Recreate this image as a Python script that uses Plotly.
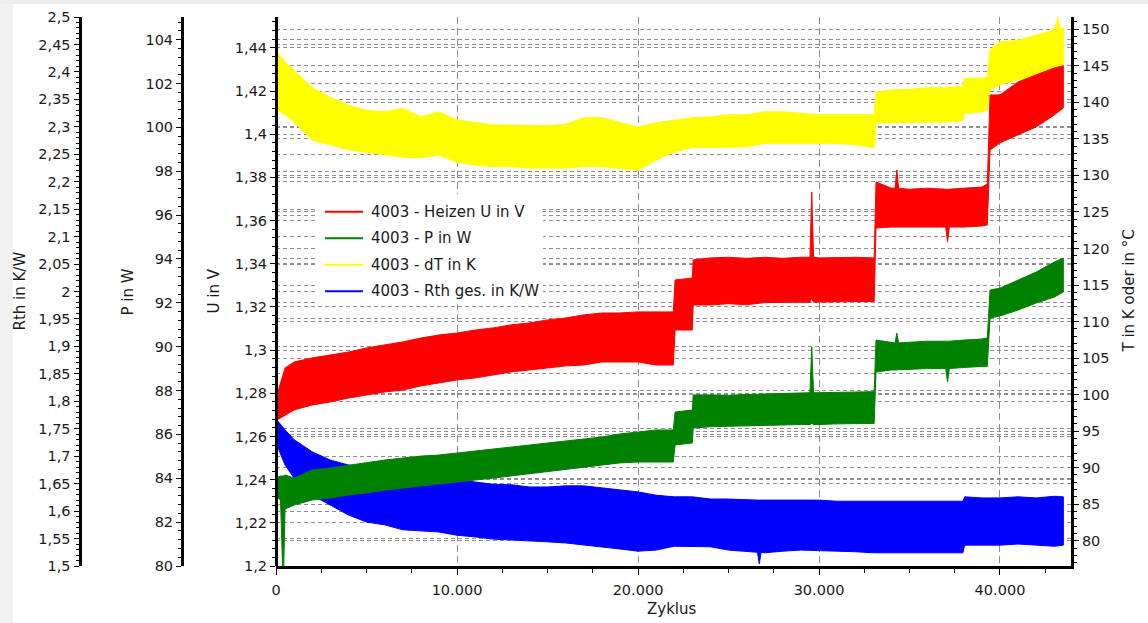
import plotly.graph_objects as go

# ---------------- measured series (envelope of the noisy signal) ----------------
# Heizen U in V (upper / lower edge of the scatter band)
u_cyc = [0, 50, 500, 1000, 2000, 3000, 4000, 5000, 6000, 7000, 8000, 9000, 10000,
         11000, 12000, 13000, 14000, 15000, 16000, 17000, 18000, 19000, 20000, 21000,
         21950, 22050, 23000, 23050, 24000, 25000, 26000, 27000, 28000, 29000, 29500,
         29600, 29700, 30000, 31000, 32000, 33050, 33150, 34000, 34200, 34300, 34400,
         35000, 36000, 37000, 37100, 37200, 38000, 39000, 39300, 39450, 40000, 41000,
         42000, 43000, 43500]
u_hi = [1.242, 1.2792, 1.2917, 1.2945, 1.2964, 1.2978, 1.2991, 1.3010, 1.3024, 1.3038,
        1.3056, 1.3070, 1.3079, 1.3093, 1.3103, 1.3117, 1.3126, 1.3140, 1.3149, 1.3163,
        1.3172, 1.3172, 1.3177, 1.3177, 1.3177, 1.3325, 1.3334, 1.3418, 1.3427, 1.3430,
        1.3425, 1.3430, 1.3425, 1.3430, 1.3430, 1.3733, 1.3430, 1.3427, 1.3430, 1.3430,
        1.3427, 1.3779, 1.3750, 1.3750, 1.3835, 1.3750, 1.3745, 1.3750, 1.3745, 1.3745,
        1.3745, 1.3750, 1.3755, 1.3770, 1.4182, 1.4182, 1.4242, 1.4275, 1.4307, 1.4317]
u_lo = [1.242, 1.2676, 1.2700, 1.2723, 1.2746, 1.2760, 1.2778, 1.2792, 1.2806, 1.2815,
        1.2834, 1.2848, 1.2862, 1.2871, 1.2885, 1.2899, 1.2908, 1.2917, 1.2927, 1.2931,
        1.2945, 1.2945, 1.2945, 1.2931, 1.2931, 1.3093, 1.3093, 1.3209, 1.3209, 1.3215,
        1.3210, 1.3220, 1.3222, 1.3222, 1.3222, 1.3240, 1.3222, 1.3225, 1.3225, 1.3225,
        1.3225, 1.3566, 1.3570, 1.3570, 1.3570, 1.3570, 1.3568, 1.3570, 1.3570, 1.3501,
        1.3570, 1.3570, 1.3575, 1.3580, 1.3927, 1.3960, 1.3997, 1.4034, 1.4089, 1.4122]

# P in W
p_cyc = [0, 250, 400, 500, 1000, 2000, 3000, 4000, 5000, 6000, 7000, 8000, 9000, 10000,
         11000, 12000, 13000, 14000, 15000, 16000, 17000, 18000, 19000, 20000, 21000,
         21950, 22050, 23000, 23050, 24000, 25000, 26000, 27000, 28000, 29000, 29500,
         29600, 29700, 30000, 31000, 32000, 33050, 33150, 34000, 34200, 34300, 34400,
         35000, 36000, 37000, 37100, 37200, 38000, 39000, 39300, 39450, 40000, 41000,
         42000, 43000, 43500]
p_hi = [84.0, 84.1, 84.1, 84.15, 84.01, 84.38, 84.47, 84.60, 84.70, 84.83, 84.92, 85.01,
        85.06, 85.15, 85.24, 85.33, 85.43, 85.52, 85.61, 85.70, 85.79, 85.88, 86.02, 86.11,
        86.20, 86.20, 87.02, 87.11, 87.80, 87.80, 87.78, 87.82, 87.85, 87.85, 87.90, 87.90,
        89.98, 87.90, 87.90, 87.92, 87.95, 87.95, 90.30, 90.17, 90.17, 90.62, 90.17, 90.20,
        90.25, 90.25, 90.25, 90.25, 90.30, 90.35, 90.40, 92.58, 92.67, 93.04, 93.40, 93.86,
        94.04]
p_lo = [83.2, 83.0, 79.0, 82.6, 82.78, 83.01, 83.10, 83.24, 83.33, 83.46, 83.56, 83.65,
        83.74, 83.83, 83.92, 84.01, 84.10, 84.19, 84.29, 84.38, 84.51, 84.60, 84.70, 84.74,
        84.74, 84.74, 85.52, 85.61, 86.29, 86.35, 86.40, 86.40, 86.43, 86.43, 86.45, 86.45,
        86.50, 86.45, 86.45, 86.48, 86.50, 86.50, 88.84, 88.94, 88.94, 88.94, 88.94, 88.95,
        89.00, 89.00, 88.39, 89.00, 89.05, 89.10, 89.10, 91.31, 91.40, 91.67, 91.99, 92.26,
        92.49]

# dT in K
t_cyc = [0, 50, 500, 1000, 2000, 3000, 4000, 5000, 6000, 7000, 8000, 9000, 10000,
         11000, 12000, 13000, 14000, 15000, 16000, 17000, 18000, 19000, 20000, 21000,
         22000, 23000, 24000, 25000, 26000, 27000, 28000, 29000, 30000, 31000, 32000,
         33050, 33150, 34000, 35000, 36000, 37000, 37950, 38050, 39000, 39300, 39450,
         40000, 41000, 42000, 43000, 43200, 43300, 43500]
t_hi = [20.0, 146.9, 145.5, 144.4, 142.0, 140.7, 139.6, 138.9, 138.7, 139.2, 138.0, 138.7,
        137.6, 137.2, 136.9, 136.9, 136.8, 136.8, 137.0, 137.9, 137.9, 137.2, 136.6, 137.2,
        137.6, 137.9, 138.0, 138.3, 138.3, 138.7, 138.7, 138.5, 138.3, 138.3, 138.3, 138.3,
        141.4, 141.7, 141.8, 142.0, 142.0, 142.2, 143.3, 143.3, 143.5, 147.2, 148.3, 148.5,
        149.2, 149.9, 151.7, 150.0, 150.2]
t_lo = [20.0, 138.95, 138.3, 137.3, 134.8, 134.2, 133.5, 133.2, 132.8, 132.5, 132.4, 132.8,
        131.8, 131.4, 131.2, 131.2, 131.0, 131.0, 131.0, 131.2, 131.2, 131.0, 130.7, 132.1,
        133.2, 133.8, 133.9, 133.9, 133.9, 134.4, 134.4, 134.4, 134.4, 134.4, 134.2, 133.8,
        137.2, 137.2, 137.2, 137.3, 137.3, 137.5, 138.5, 138.7, 139.0, 141.7, 142.4, 143.1,
        143.3, 144.2, 144.4, 144.5, 144.8]

# Rth ges. in K/W
r_cyc = [0, 50, 500, 1000, 2000, 3000, 4000, 5000, 6000, 7000, 8000, 9000, 10000,
         11000, 12000, 13000, 14000, 15000, 16000, 17000, 18000, 19000, 20000, 21000,
         22000, 23000, 24000, 25000, 26000, 26600, 26700, 26800, 27000, 28000, 29000,
         30000, 31000, 32000, 33000, 34000, 35000, 36000, 37000, 37950, 38050, 39000,
         40000, 41000, 42000, 43000, 43500]
r_hi = [1.578, 1.766, 1.748, 1.730, 1.708, 1.693, 1.684, 1.679, 1.671, 1.668, 1.662, 1.660,
        1.657, 1.653, 1.649, 1.648, 1.644, 1.644, 1.646, 1.646, 1.642, 1.638, 1.635, 1.629,
        1.626, 1.626, 1.622, 1.622, 1.620, 1.620, 1.620, 1.620, 1.620, 1.620, 1.620, 1.620,
        1.618, 1.618, 1.617, 1.618, 1.618, 1.618, 1.618, 1.618, 1.626, 1.624, 1.624, 1.626,
        1.624, 1.627, 1.626]
r_lo = [1.578, 1.720, 1.684, 1.660, 1.629, 1.611, 1.593, 1.580, 1.575, 1.566, 1.564, 1.562,
        1.556, 1.553, 1.549, 1.547, 1.546, 1.544, 1.542, 1.538, 1.535, 1.531, 1.527, 1.529,
        1.536, 1.536, 1.535, 1.529, 1.526, 1.525, 1.504, 1.525, 1.524, 1.527, 1.529, 1.529,
        1.527, 1.526, 1.524, 1.524, 1.524, 1.524, 1.524, 1.524, 1.538, 1.538, 1.538, 1.540,
        1.538, 1.536, 1.538]

series = [
    # name, cycles, upper, lower, colour, y axis  (drawing order: bottom to top)
    ("4003 - Rth ges. in K/W", r_cyc, r_hi, r_lo, "#0000FF", "y"),
    ("4003 - dT in K", t_cyc, t_hi, t_lo, "#FFFF00", "y2"),
    ("4003 - P in W", p_cyc, p_hi, p_lo, "#008000", "y3"),
    ("4003 - Heizen U in V", u_cyc, u_hi, u_lo, "#FF0000", "y4"),
]
legend_order = ["4003 - Heizen U in V", "4003 - P in W", "4003 - dT in K",
                "4003 - Rth ges. in K/W"]

W, H = 1148, 623
ML, MR, MT, MB = 0, 0, 17, 57
PH = H - MT - MB
X0, X1 = 276, 1071


def px(x):
    return x / W


def py(y):
    return (H - MB - y) / PH


FONT = "DejaVu Sans"
TXT = "#1a1a1a"
GRID = "#8e8e8e"

fig = go.Figure()
for name, cyc, hi, lo, col, ax in series:
    fig.add_trace(go.Scatter(
        x=list(cyc) + list(cyc)[::-1], y=list(hi) + list(lo)[::-1],
        yaxis=ax, mode="lines", fill="toself", fillcolor=col, name=name,
        line=dict(color=col, width=1), showlegend=False, hoverinfo="skip"))

colors = {s[0]: s[4] for s in series}


def yax(rng, dtick, tick0, minor, pos=None, side="left", anchor="free", overlay=True):
    d = dict(range=rng, dtick=dtick, tick0=tick0, side=side, anchor=anchor,
             showline=True, linecolor="black", linewidth=3, ticks="outside",
             ticklen=5, tickwidth=1, tickcolor="black",
             minor=dict(dtick=minor, tick0=tick0, ticks="outside", ticklen=3,
                        tickcolor="black", showgrid=False),
             showgrid=True, gridcolor=GRID, gridwidth=1, griddash="4px,3px",
             zeroline=False, tickfont=dict(family=FONT, size=14.5, color=TXT),
             automargin=False, fixedrange=True)
    if pos is not None:
        d["position"] = pos
    if overlay:
        d["overlaying"] = "y"
    return d


# legend box drawn as a white panel with line samples and text labels
legend_rows = [211.7, 238.3, 264.8, 291.2]
shapes = [
    dict(type="rect", xref="paper", yref="paper", x0=0, x1=px(13),
         y0=py(H), y1=py(0), fillcolor="#f1f1f1", line=dict(width=0), layer="below"),
    dict(type="rect", xref="paper", yref="paper", x0=0, x1=1,
         y0=py(4), y1=py(0), fillcolor="#ededed", line=dict(width=0), layer="below"),
    dict(type="rect", xref="paper", yref="paper", x0=px(316), x1=px(543),
         y0=py(304), y1=py(194), fillcolor="white", line=dict(width=0), layer="above"),
]
annotations = [
    dict(text="Rth in K/W", x=px(19), y=0.5, textangle=-90),
    dict(text="P in W", x=px(127), y=0.5, textangle=-90),
    dict(text="U in V", x=px(213), y=0.5, textangle=-90),
    dict(text="T in K oder in °C", x=px(1128), y=0.5, textangle=-90),
    dict(text="Zyklus", x=px(672), y=py(609)),
]
for a in annotations:
    a.update(xref="paper", yref="paper", showarrow=False, xanchor="center",
             yanchor="middle", font=dict(family=FONT, size=15, color=TXT))

for name, ry in zip(legend_order, legend_rows):
    shapes.append(dict(type="line", xref="paper", yref="paper", x0=px(325), x1=px(363),
                       y0=py(ry), y1=py(ry), line=dict(color=colors[name], width=2),
                       layer="above"))
    annotations.append(dict(text=name, x=px(369), y=py(ry), xref="paper", yref="paper",
                            showarrow=False, xanchor="left", yanchor="middle",
                            font=dict(family=FONT, size=15, color=TXT)))

fig.update_layout(
    width=W, height=H,
    margin=dict(l=ML, r=MR, t=MT, b=MB),
    paper_bgcolor="white", plot_bgcolor="white",
    separators=",.",
    font=dict(family=FONT, size=14.5, color=TXT),
    showlegend=False,
    xaxis=dict(domain=[px(X0), px(X1)], range=[0, 43923], dtick=10000, tick0=0,
               tickformat=",d", showline=True, linecolor="black", linewidth=3,
               ticks="outside", ticklen=6, tickcolor="black", ticklabelstandoff=3,
               minor=dict(dtick=2500, ticks="outside", ticklen=4, tickcolor="black",
                          showgrid=False),
               showgrid=True, gridcolor=GRID, gridwidth=1, griddash="7px,4px",
               zeroline=False, tickfont=dict(family=FONT, size=14.5, color=TXT),
               automargin=False, fixedrange=True),
    yaxis=yax([1.5, 2.5], 0.05, 1.5, 0.01, pos=px(79.5), overlay=False),
    yaxis2=yax([76.54, 151.68], 5, 80, 1, side="right", anchor="x"),
    yaxis3=yax([80, 105.03], 2, 80, 0.4, pos=px(182)),
    yaxis4=yax([1.2, 1.4543], 0.02, 1.2, 0.004, pos=px(X0)),
    shapes=shapes,
    annotations=annotations,
)

fig.write_html("out.html")
